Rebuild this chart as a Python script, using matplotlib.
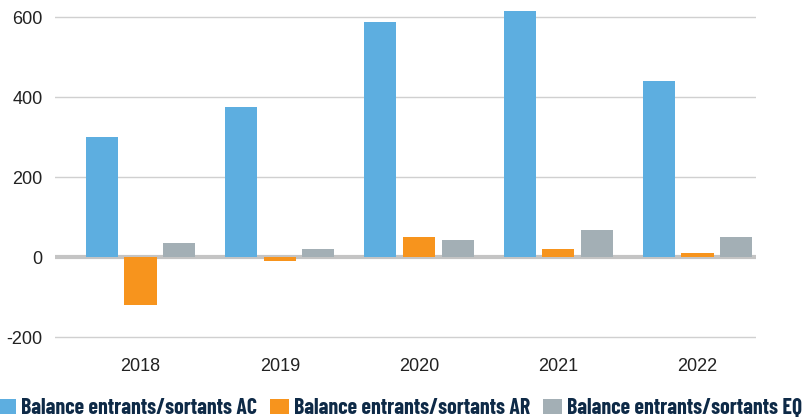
import matplotlib.pyplot as plt
import numpy as np

years = ["2018", "2019", "2020", "2021", "2022"]
ac = [300, 375, 587, 615, 440]
ar = [-120, -10, 50, 20, 10]
eq = [35, 20, 42, 67, 50]
labels = ["Balance entrants/sortants AC", "Balance entrants/sortants AR",
          "Balance entrants/sortants EQ"]
colors = ["#5DAEE0", "#F7941D", "#A3AFB5"]

plt.rcParams['font.family'] = ['Liberation Sans', 'DejaVu Sans']
plt.rcParams['axes.unicode_minus'] = False

fig = plt.figure(figsize=(8.09, 4.19), dpi=100)
# plot area: x 55..756 px, y=620 at 9px, y=-205 at 339px
ax = fig.add_axes([55 / 809, 1 - 339 / 419, 701 / 809, 330 / 419])

x = np.arange(len(years))
w = 0.23
step = 0.277
for i, (vals, lab, col) in enumerate(zip([ac, ar, eq], labels, colors)):
    ax.bar(x + (i - 1) * step, vals, w, color=col, label=lab, zorder=3)

# categories are not centred in the grid area
ax.set_xlim(-0.614, 4.42)
ax.set_ylim(-205, 620)
ax.set_yticks([-200, 0, 200, 400, 600])
ax.set_xticks(x)
ax.set_xticklabels(years)
ax.grid(axis='y', color='#d0d0d0', linewidth=1, zorder=0)
ax.axhline(0, color='#c4c4c4', linewidth=3, zorder=2)
for s in ax.spines.values():
    s.set_visible(False)
ax.tick_params(length=0, labelsize=13, colors='#222222')
ax.tick_params(axis='y', pad=9)
ax.tick_params(axis='x', pad=14)

leg = fig.legend(loc='lower left', bbox_to_anchor=(-3 / 809, 1 / 419), ncol=3,
                 frameon=False, borderaxespad=0, borderpad=0,
                 handlelength=0.87, handleheight=0.69,
                 handletextpad=0.23, columnspacing=0.6,
                 prop={'family': ['Barlow Condensed', 'Liberation Sans'],
                       'weight': 'bold', 'size': 15.7})
for t in leg.get_texts():
    t.set_color('#0E2A47')

fig.savefig("out.png", dpi=100)
